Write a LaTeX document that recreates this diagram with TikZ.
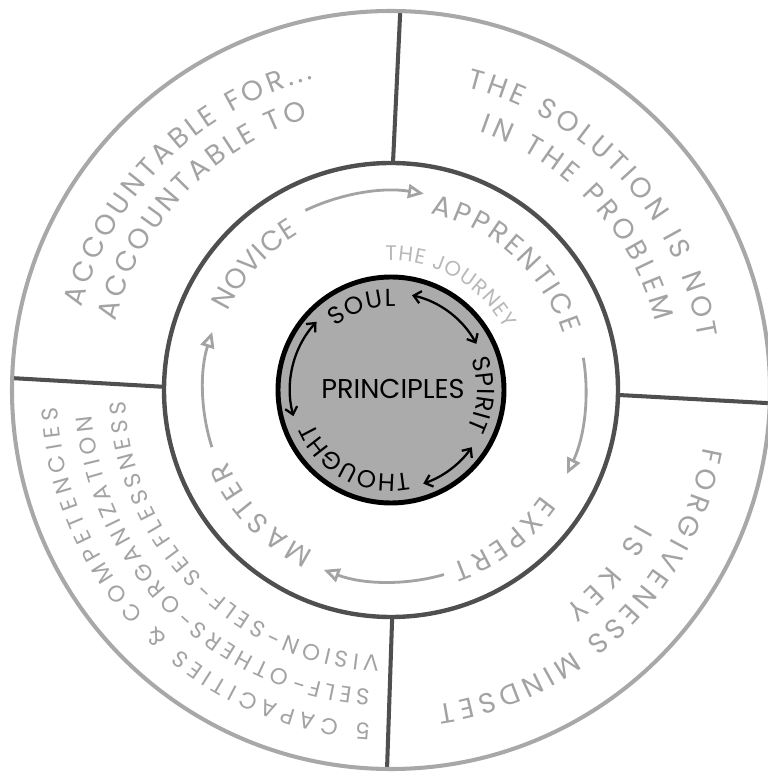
\documentclass[tikz,border=0pt]{standalone}
\usepackage{fontspec}
\setmainfont{Poppins}
\usetikzlibrary{arrows.meta,decorations.text}

\definecolor{grisclaro}{gray}{0.66}
\definecolor{grisoscuro}{gray}{0.31}
\definecolor{gristexto}{gray}{0.64}
\definecolor{grisviaje}{gray}{0.72}
\definecolor{grisfondo}{gray}{0.67}

\newcommand{\letragrande}{\fontsize{16}{16}\selectfont}
\newcommand{\letrasector}{\fontsize{13}{13}\selectfont}
\newcommand{\letramedia}{\fontsize{14}{14}\selectfont}
\newcommand{\letrachica}{\fontsize{12}{12}\selectfont}

\tikzset{
  divisor/.style={draw=grisoscuro, line width=2.3pt},
  texto curvo/.style 2 args={decorate, decoration={text along path, text align={fit to path}, text color=#1, text={#2}}},
  flecha viaje/.style={draw=gristexto, line width=1.6pt, -{Triangle[open, length=9pt, width=8pt]}},
  flecha doble/.style={draw=black, line width=1.3pt, {Straight Barb[length=4pt, width=7pt]}-{Straight Barb[length=4pt, width=7pt]}},
}

\begin{document}
\begin{tikzpicture}[x=0.02cm, y=0.02cm]
  % Marco de la figura
  \useasboundingbox (-391,-386) rectangle (376,390);

  % Separadores de los cuatro sectores
  \draw[divisor] (89.5:227) -- (88.6:379);
  \draw[divisor] (179.2:227) -- (178.2:379);
  \draw[divisor] (-1.25:227) -- (-2:379);
  \draw[divisor] (-89.7:227) -- (-90.6:379);

  % Anillos exterior y medio
  \draw[grisclaro, line width=2.3pt] (0,0) circle (379);
  \draw[grisoscuro, line width=2.5pt] (0,0) circle (227);

  % Textos de los sectores exteriores
  \path[texto curvo={gristexto}{|\letragrande|ACCOUNTABLE FOR...}] (165:320) arc[start angle=165, end angle=104, radius=320];
  \path[texto curvo={gristexto}{|\letragrande|ACCOUNTABLE TO}] (166:284) arc[start angle=166, end angle=107, radius=284];
  \path[texto curvo={gristexto}{|\letragrande|THE SOLUTION IS NOT}] (76:312) arc[start angle=76, end angle=9.5, radius=312];
  \path[texto curvo={gristexto}{|\letragrande|IN THE PROBLEM}] (71:273) arc[start angle=71, end angle=14.5, radius=273];
  \path[texto curvo={gristexto}{|\letragrande|FORGIVENESS MINDSET}] (-10.5:318) arc[start angle=-10.5, end angle=-81.5, radius=318];
  \path[texto curvo={gristexto}{|\letragrande|IS KEY}] (-28.5:279) arc[start angle=-28.5, end angle=-51.5, radius=279];
  \path[texto curvo={gristexto}{|\letrasector|5 CAPACITIES {\&} COMPETENCIES}] (-93.5:334) arc[start angle=-93.5, end angle=-177, radius=334];
  \path[texto curvo={gristexto}{|\letrasector|SELF-OTHERS-ORGANIZATION}] (-94:300) arc[start angle=-94, end angle=-175, radius=300];
  \path[texto curvo={gristexto}{|\letrasector|VISION-SELF-SELFLESSNESS}] (-92.5:266) arc[start angle=-92.5, end angle=-177.5, radius=266];

  % Etapas del recorrido
  \path[texto curvo={gristexto}{|\letragrande|NOVICE}] (154.5:181) arc[start angle=154.5, end angle=120.5, radius=181];
  \path[texto curvo={gristexto}{|\letragrande|APPRENTICE}] (77.5:181) arc[start angle=77.5, end angle=18, radius=181];
  \path[texto curvo={gristexto}{|\letragrande|EXPERT}] (-35:184) arc[start angle=-35, end angle=-71, radius=184];
  \path[texto curvo={gristexto}{|\letragrande|MASTER}] (-115.5:179) arc[start angle=-115.5, end angle=-156.5, radius=179];
  \path[texto curvo={grisviaje}{|\letrachica|THE JOURNEY}] (92.5:129) arc[start angle=92.5, end angle=28, radius=129];

  % Flechas del recorrido
  \draw[flecha viaje] (115.5:199) arc[start angle=115.5, end angle=80.5, radius=199];
  \draw[flecha viaje] (9.5:195) arc[start angle=9.5, end angle=-25.5, radius=195];
  \draw[flecha viaje] (-74:192) arc[start angle=-74, end angle=-110.5, radius=192];
  \draw[flecha viaje] (197.7:188) arc[start angle=197.7, end angle=162, radius=188];

  % Circulo central
  \filldraw[fill=grisfondo, draw=black, line width=2.8pt] (0,0) circle (113);
  \node[font=\fontsize{15.5}{15.5}\selectfont, text=black] (principios) at (2,1) {PRINCIPLES};

  % Textos del circulo central
  \path[texto curvo={black}{|\letramedia|SOUL}] (131:84) arc[start angle=131, end angle=87, radius=84];
  \path[texto curvo={black}{|\letramedia|SPIRIT}] (21:86) arc[start angle=21, end angle=-27, radius=86];
  \path[texto curvo={black}{|\letramedia|THOUGHT}] (-78:84) arc[start angle=-78, end angle=-157, radius=84];

  % Flechas dobles del centro
  \draw[flecha doble] (77.5:97) arc[start angle=77.5, end angle=28.4, radius=97];
  \draw[flecha doble] (-35.3:99) arc[start angle=-35.3, end angle=-71, radius=99];
  \draw[flecha doble] (195:101) arc[start angle=195, end angle=137.5, radius=101];
\end{tikzpicture}
\end{document}
